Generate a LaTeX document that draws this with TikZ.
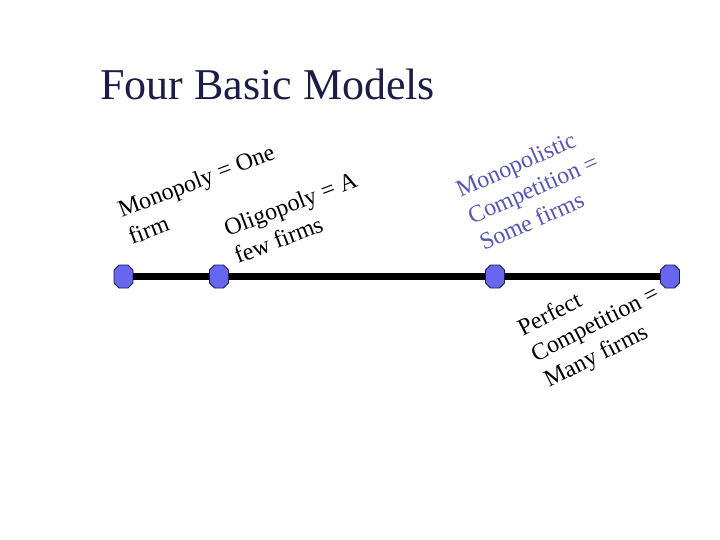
\documentclass[tikz,border=0pt]{standalone}
\usepackage{fontspec}
\setmainfont{Liberation Serif}
\definecolor{titlecol}{HTML}{1C1C48}
\definecolor{bluetext}{HTML}{5555BB}
\definecolor{dotfill}{HTML}{6666EE}
\definecolor{dotline}{HTML}{1A1A50}
\tikzset{
  dot/.style={rectangle, inner sep=0pt, minimum width=19pt, minimum height=23pt},
  octa/.style={fill=dotfill, draw=dotline, line width=0.8pt},
  lbl/.style={anchor=base west, align=left, inner sep=0pt, font=\fontsize{24}{29}\selectfont},
  bar/.style={line width=6.5pt, black}
}
\begin{document}
\begin{tikzpicture}[x=1pt,y=-1pt]
\useasboundingbox (0,0) rectangle (720,540);
\node[anchor=base west, inner sep=0pt, text=titlecol, font=\fontsize{44}{50}\selectfont] (title) at (100,100) {Four Basic Models};
\node[dot] (a) at (123.5,276.5) {};
\node[dot] (b) at (219,276.5) {};
\node[dot] (c) at (495,276.5) {};
\node[dot] (d) at (670,276.5) {};
\foreach \n in {a,b,c,d}
  \draw[octa, shift={(\n.center)}] (-4.5,-11.5) -- (4.5,-11.5) -- (9.5,-6.5) -- (9.5,6.5) -- (4.5,11.5) -- (-4.5,11.5) -- (-9.5,6.5) -- (-9.5,-6.5) -- cycle;
\draw[bar] (a) -- (b);
\draw[bar] (b) -- (c);
\draw[bar] (c) -- (d);
\node[lbl, rotate=21] (mono) at (132,245) {Monopoly = One\\firm};
\node[lbl, rotate=21] (oligo) at (238,264) {Oligopoly = A\\few firms};
\node[lbl, rotate=24, text=bluetext] (mc) at (484,251) {Monopolistic\\Competition =\\Some firms};
\node[lbl, rotate=27] (pc) at (549,388) {Perfect\\Competition =\\Many firms};
\end{tikzpicture}
\end{document}
